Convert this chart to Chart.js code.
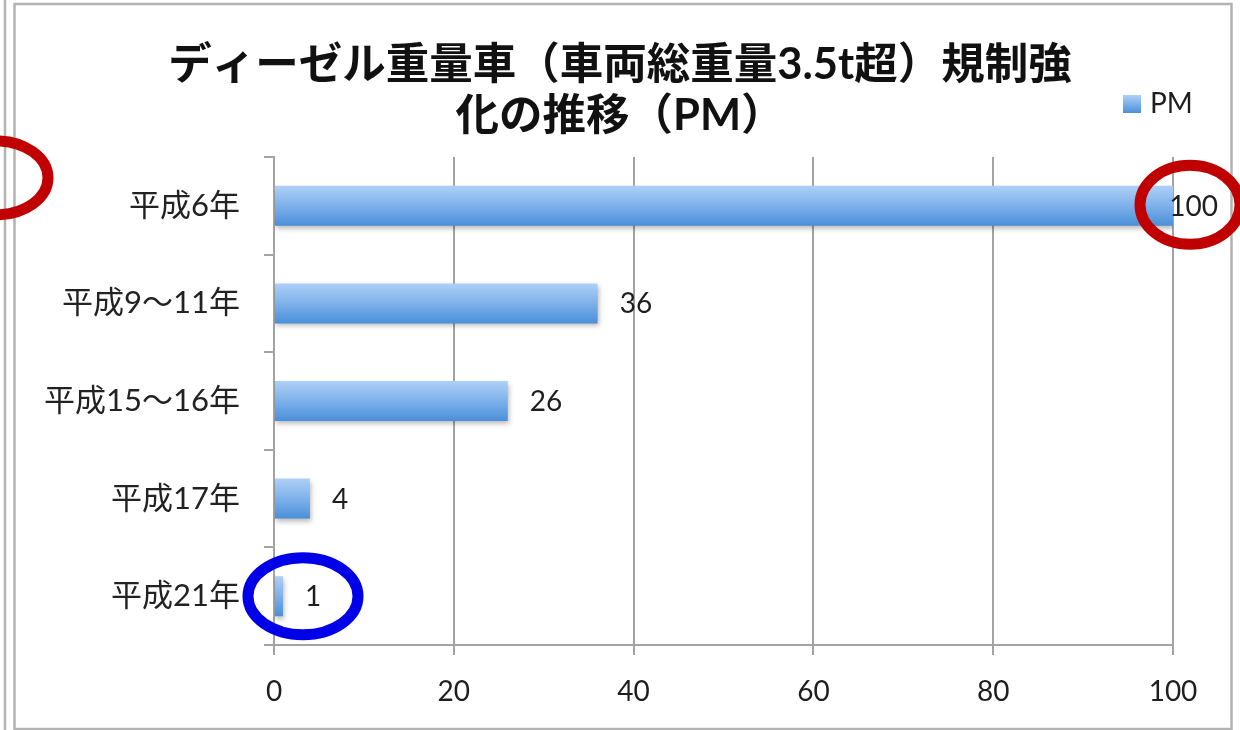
<!DOCTYPE html>
<html lang="ja">
<head>
<meta charset="utf-8">
<title>ディーゼル重量車 規制強化の推移（PM）</title>
<script src="https://cdn.jsdelivr.net/npm/chart.js@4/dist/chart.umd.min.js"></script>
<style>
  html, body { margin: 0; padding: 0; background: #ffffff; }
  #wrap { position: relative; width: 1240px; height: 730px; }
  canvas { display: block; }
</style>
</head>
<body>
<div id="wrap"><canvas id="chart" width="1240" height="730"></canvas></div>
<script>
// Regulation periods (category axis)
const categories = ['平成6年', '平成9〜11年', '平成15〜16年', '平成17年', '平成21年'];
// PM limit relative to the 平成6年 level (= 100)
const pmValues = [100, 36, 26, 4, 1];
const seriesLabel = 'PM';
const titleLines = ['ディーゼル重量車（車両総重量3.5t超）規制強', '化の推移（PM）'];
const xMin = 0;
const xMax = 100;
const xStep = 20;

const FONT = "Lato, 'Noto Sans CJK JP', sans-serif";
const GRID = '#a3a3a3';
const BAR_PCT = 0.41;

function barGradient(ctx, top, bottom) {
  const g = ctx.createLinearGradient(0, top, 0, bottom);
  g.addColorStop(0, '#aed0f7');
  g.addColorStop(0.45, '#83b4ec');
  g.addColorStop(1, '#4a8fd9');
  return g;
}

// Circled call-outs, anchored to a category and a value on the axes
const callouts = [
  { cat: 0, value: 100, dx: 17, dy: -1, rx: 50, ry: 39.5, color: '#c00000' },
  { cat: 4, value: 1, dx: 20, dy: 0, rx: 55, ry: 38.5, color: '#0000e8' },
  { cat: 0, value: null, px: -4, dy: -28, rx: 52, ry: 37, color: '#c00000' }
];

const framePlugin = {
  id: 'frame',
  beforeDraw(chart) {
    const c = chart.ctx;
    c.save();
    c.strokeStyle = '#b3b3b3';
    c.lineWidth = 2.5;
    c.beginPath();
    c.moveTo(5, 0); c.lineTo(5, chart.height);
    c.stroke();
    c.strokeRect(14.5, 4, chart.width - 23, chart.height - 5);

    // two-line chart title, centred on the canvas
    c.fillStyle = '#111111';
    c.font = 'bold 43.5px ' + FONT;
    c.textAlign = 'center';
    c.textBaseline = 'middle';
    titleLines.forEach((line, i) => {
      c.fillText(line, chart.width / 2, 65 + i * 51);
    });
    c.restore();
  }
};

const barDecor = {
  id: 'barDecor',
  beforeDatasetsDraw(chart) {
    const c = chart.ctx;
    c.save();
    c.shadowColor = 'rgba(0,0,0,0.28)';
    c.shadowBlur = 5;
    c.shadowOffsetX = 1;
    c.shadowOffsetY = 3;
  },
  afterDatasetsDraw(chart) {
    const c = chart.ctx;
    c.restore();
    // value labels beside each bar
    const meta = chart.getDatasetMeta(0);
    const data = chart.data.datasets[0].data;
    c.save();
    c.font = '28px ' + FONT;
    c.fillStyle = '#1e1e1e';
    c.textBaseline = 'middle';
    c.textAlign = 'left';
    meta.data.forEach((bar, i) => {
      const txt = String(data[i]);
      const w = c.measureText(txt).width;
      const x = Math.min(bar.x + 22, chart.width - 22 - w);
      c.fillText(txt, x, bar.y + 1);
    });
    c.restore();
  },
  afterDraw(chart) {
    const c = chart.ctx;
    const area = chart.chartArea;
    // legend entry, top-right above the plot
    const ds = chart.data.datasets[0];
    const bx = area.right - 50;
    const by = area.top - 62;
    c.save();
    c.fillStyle = barGradient(c, by, by + 18);
    c.fillRect(bx, by, 18, 18);
    c.font = '28px ' + FONT;
    c.fillStyle = '#1e1e1e';
    c.textBaseline = 'middle';
    c.fillText(ds.label, bx + 27, by + 9);
    c.restore();

    // call-out ellipses
    const xs = chart.scales.x;
    const ys = chart.scales.y;
    c.save();
    c.lineWidth = 11;
    callouts.forEach(o => {
      const cx = o.value === null ? o.px : xs.getPixelForValue(o.value) + o.dx;
      const cy = ys.getPixelForValue(o.cat) + o.dy;
      c.strokeStyle = o.color;
      c.beginPath();
      c.ellipse(cx, cy, o.rx, o.ry, 0, 0, Math.PI * 2);
      c.stroke();
    });
    c.restore();
  }
};

new Chart(document.getElementById('chart'), {
  type: 'bar',
  data: {
    labels: categories,
    datasets: [{
      label: seriesLabel,
      data: pmValues,
      categoryPercentage: 1,
      barPercentage: BAR_PCT,
      borderWidth: 0,
      backgroundColor(ctx) {
        const chart = ctx.chart;
        const ys = chart.scales && chart.scales.y;
        if (!chart.chartArea || !ys || ctx.dataIndex === undefined) return '#7fb1ea';
        const band = chart.chartArea.height / categories.length;
        const half = band * BAR_PCT / 2;
        const cy = ys.getPixelForValue(ctx.dataIndex);
        return barGradient(chart.ctx, cy - half, cy + half);
      }
    }]
  },
  options: {
    indexAxis: 'y',
    responsive: false,
    devicePixelRatio: 1,
    animation: false,
    layout: { padding: { left: 0, right: 67, top: 157, bottom: 0 } },
    plugins: {
      legend: { display: false },
      tooltip: { enabled: false },
      title: { display: false }
    },
    scales: {
      x: {
        position: 'bottom',
        min: xMin,
        max: xMax,
        ticks: {
          stepSize: xStep,
          color: '#1e1e1e',
          font: { family: FONT, size: 28 },
          padding: 20
        },
        grid: { color: GRID, lineWidth: 2, tickLength: 10, drawTicks: true },
        border: { display: true, color: GRID, width: 2 },
        afterFit(scale) { scale.height = 85; }
      },
      y: {
        ticks: {
          color: '#222222',
          font: { family: FONT, size: 31 },
          padding: 24
        },
        grid: { drawOnChartArea: false, drawTicks: true, tickLength: 10, color: GRID, lineWidth: 2, offset: true },
        border: { display: true, color: GRID, width: 2 },
        afterFit(scale) { scale.width = 274; }
      }
    }
  },
  plugins: [framePlugin, barDecor]
});
</script>
</body>
</html>
